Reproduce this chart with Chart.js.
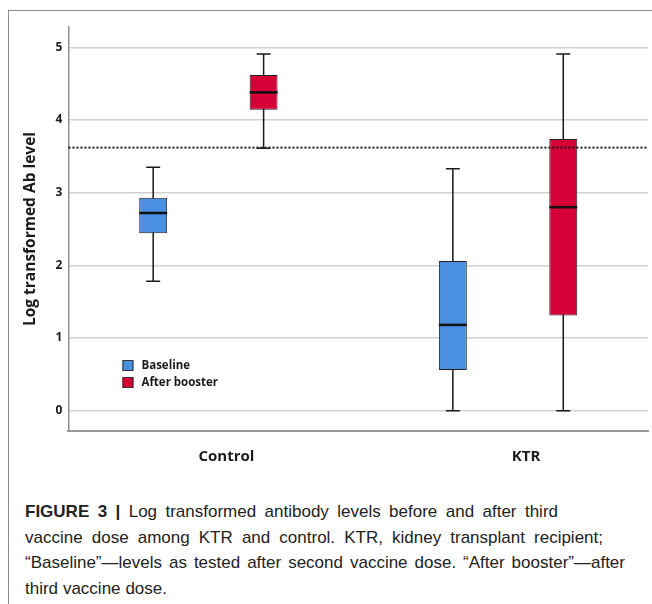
<!DOCTYPE html>
<html>
<head>
<meta charset="utf-8">
<script src="https://cdn.jsdelivr.net/npm/chart.js@4.4.1/dist/chart.umd.min.js"></script>
<style>
  html, body { margin: 0; padding: 0; background: #fff; width: 652px; height: 604px; overflow: hidden; }
  .frame { position: absolute; left: 8px; top: 10px; width: 700px; height: 700px; border-top: 1px solid #8a8a8a; border-left: 1px solid #8a8a8a; }
  .plot { position: absolute; left: 0; top: 0; width: 652px; height: 475px; }
  .caption { position: absolute; left: 25px; top: 499px; font-family: "Liberation Sans", Arial, sans-serif; font-size: 17px; line-height: 25.5px; color: #222; white-space: nowrap; }
  .caption div { display: inline-block; }
  .caption b { font-weight: 700; }
</style>
</head>
<body>
<div class="frame"></div>
<div class="plot"><canvas id="chart" width="652" height="475"></canvas></div>
<div class="caption">
  <div data-w="533"><b>FIGURE 3 |</b> Log transformed antibody levels before and after third</div><br>
  <div data-w="578">vaccine dose among KTR and control. KTR, kidney transplant recipient;</div><br>
  <div data-w="600">“Baseline”—levels as tested after second vaccine dose. “After booster”—after</div><br>
  <div data-w="142">third vaccine dose.</div>
</div>
<script>
// ── Data ────────────────────────────────────────────────────────────────────
const groups = ['Control', 'KTR']

const baselineMin    = [1.78, 0.00]
const baselineQ1     = [2.44, 0.56]
const baselineMedian = [2.72, 1.18]
const baselineQ3     = [2.93, 2.06]
const baselineMax    = [3.35, 3.33]

const boosterMin    = [3.61, 0.00]
const boosterQ1     = [4.14, 1.31]
const boosterMedian = [4.38, 2.80]
const boosterQ3     = [4.62, 3.74]
const boosterMax    = [4.91, 4.91]

const threshold = 3.62
const yTicks = [0, 1, 2, 3, 4, 5]

const FONT = '"Open Sans", "DejaVu Sans", sans-serif'

// caption lines: spread the words so each line ends where the figure's does
document.querySelectorAll('.caption div').forEach(el => {
  const gaps = (el.textContent.trim().match(/ /g) || []).length
  const extra = +el.dataset.w - el.getBoundingClientRect().width
  if (gaps && extra > 0) el.style.wordSpacing = (extra / gaps) + 'px'
})

// ── Box plot drawing (whiskers, medians, threshold, legend) ─────────────────
const boxPlugin = {
  id: 'boxes',
  beforeDatasetsDraw(chart) {
    const ctx = chart.ctx
    const y = chart.scales.y
    chart.data.datasets.forEach((ds, i) => {
      chart.getDatasetMeta(i).data.forEach((bar, j) => {
        const half = bar.width / 4
        const yMin = y.getPixelForValue(ds.stats.min[j])
        const yMax = y.getPixelForValue(ds.stats.max[j])
        ctx.save()
        ctx.strokeStyle = '#1a1a1a'
        ctx.lineWidth = 1.5
        ctx.beginPath()
        ctx.moveTo(bar.x, yMin); ctx.lineTo(bar.x, yMax)
        ctx.moveTo(bar.x - half, yMin); ctx.lineTo(bar.x + half, yMin)
        ctx.moveTo(bar.x - half, yMax); ctx.lineTo(bar.x + half, yMax)
        ctx.stroke()
        ctx.restore()
      })
    })
  },
  afterDatasetsDraw(chart) {
    const ctx = chart.ctx
    const y = chart.scales.y
    const area = chart.chartArea
    chart.data.datasets.forEach((ds, i) => {
      chart.getDatasetMeta(i).data.forEach((bar, j) => {
        const ym = y.getPixelForValue(ds.stats.median[j])
        ctx.save()
        ctx.strokeStyle = '#111'
        ctx.lineWidth = 2.5
        ctx.beginPath()
        ctx.moveTo(bar.x - bar.width / 2, ym); ctx.lineTo(bar.x + bar.width / 2, ym)
        ctx.stroke()
        ctx.restore()
      })
    })
    // reference line
    const yt = y.getPixelForValue(threshold)
    ctx.save()
    ctx.strokeStyle = '#1a1a1a'
    ctx.lineWidth = 2
    ctx.setLineDash([2, 2])
    ctx.beginPath()
    ctx.moveTo(area.left, yt); ctx.lineTo(area.right, yt)
    ctx.stroke()
    ctx.restore()

    // legend inside the plot
    ctx.save()
    ctx.font = 'bold 11.5px ' + FONT
    ctx.textBaseline = 'middle'
    chart.data.datasets.forEach((ds, i) => {
      const lx = area.left + 54
      const ly = 360 + i * 17
      ctx.fillStyle = ds.backgroundColor
      ctx.fillRect(lx, ly, 11, 11)
      ctx.strokeStyle = '#333'
      ctx.lineWidth = 1
      ctx.strokeRect(lx + 0.5, ly + 0.5, 10, 10)
      ctx.fillStyle = '#1a1a1a'
      ctx.fillText(ds.label, lx + 19, ly + 5.5)
    })
    ctx.restore()
  }
}

const ctx = document.getElementById('chart').getContext('2d')
new Chart(ctx, {
  type: 'bar',
  data: {
    datasets: [
      {
        label: 'Baseline',
        data: groups.map((_, j) => ({ x: j, y: [baselineQ1[j], baselineQ3[j]] })),
        stats: { min: baselineMin, median: baselineMedian, max: baselineMax },
        backgroundColor: '#4a8fe0',
        borderColor: '#222',
        borderWidth: 1,
        borderSkipped: false,
        barPercentage: 0.253,
        categoryPercentage: 0.737
      },
      {
        label: 'After booster',
        data: groups.map((_, j) => ({ x: j, y: [boosterQ1[j], boosterQ3[j]] })),
        stats: { min: boosterMin, median: boosterMedian, max: boosterMax },
        backgroundColor: '#d40036',
        borderColor: '#222',
        borderWidth: 1,
        borderSkipped: false,
        barPercentage: 0.253,
        categoryPercentage: 0.737
      }
    ]
  },
  options: {
    responsive: false,
    animation: false,
    layout: { padding: { left: 14, top: 27, right: 4, bottom: 0 } },
    plugins: { legend: { display: false }, tooltip: { enabled: false } },
    scales: {
      x: {
        type: 'linear',
        offset: false,
        min: -0.467,
        max: 1.467,
        afterBuildTicks: (axis) => { axis.ticks = groups.map((_, j) => ({ value: j })) },
        grid: { display: false },
        border: { color: '#9a9a9a', width: 2 },
        ticks: {
          color: '#1a1a1a', padding: 9, labelOffset: 18,
          callback: (v) => groups[v],
          font: { family: FONT, size: 15, weight: 'bold' }
        }
      },
      y: {
        min: -0.28,
        max: 5.28,
        afterBuildTicks: (axis) => { axis.ticks = yTicks.map(v => ({ value: v })) },
        grid: { color: '#d2d2d2', lineWidth: 1.5, drawTicks: false },
        border: { color: '#8f8f8f', width: 1.5 },
        ticks: { color: '#1a1a1a', padding: 6, font: { family: FONT, size: 12, weight: 'bold' } },
        title: {
          display: true,
          text: 'Log transformed Ab level',
          color: '#1a1a1a',
          padding: { top: 7, bottom: 10 },
          font: { family: FONT, size: 15.5, weight: 'bold' }
        }
      }
    }
  },
  plugins: [boxPlugin]
})
</script>
</body>
</html>
